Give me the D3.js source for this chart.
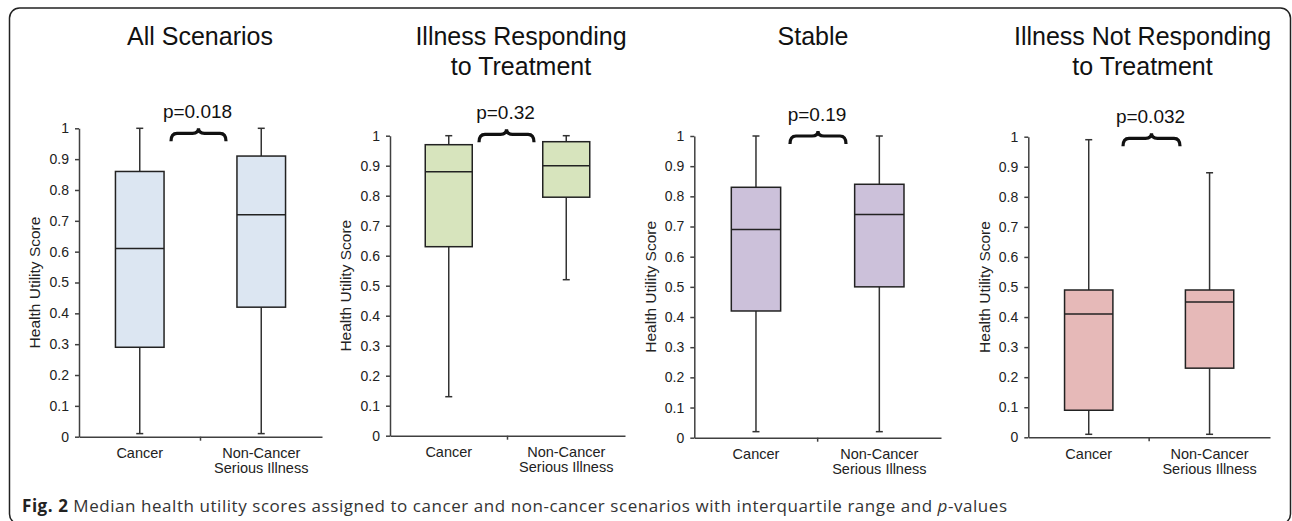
<!DOCTYPE html>
<html>
<head>
<meta charset="utf-8">
<script src="https://cdn.jsdelivr.net/npm/d3@7"></script>
<style>
  html, body {
    margin: 0;
    padding: 0;
    background: #fff;
  }
  svg {
    display: block;
  }
  .axis path,
  .axis line {
    stroke: #404040;
    stroke-width: 1.5;
  }
  .axis text {
    fill: #222;
    font-family: 'Liberation Sans', Arial, sans-serif;
    font-size: 14px;
  }
</style>
</head>
<body>
<div id="chart"></div>
<script>
// panel titles, categories and the box plot values
const panelTitles = [
  ['All Scenarios'],
  ['Illness Responding', 'to Treatment'],
  ['Stable'],
  ['Illness Not Responding', 'to Treatment'],
]
const categories = ['Cancer', 'Non-Cancer Serious Illness']
const categoryLines = [['Cancer'], ['Non-Cancer', 'Serious Illness']]

const cancerMin = [0.01, 0.13, 0.02, 0.01]
const cancerQ1 = [0.29, 0.63, 0.42, 0.09]
const cancerMedian = [0.61, 0.88, 0.69, 0.41]
const cancerQ3 = [0.86, 0.97, 0.83, 0.49]
const cancerMax = [1.0, 1.0, 1.0, 0.99]

const otherMin = [0.01, 0.52, 0.02, 0.01]
const otherQ1 = [0.42, 0.795, 0.5, 0.23]
const otherMedian = [0.72, 0.9, 0.74, 0.45]
const otherQ3 = [0.91, 0.98, 0.84, 0.49]
const otherMax = [1.0, 1.0, 1.0, 0.88]

const pValues = ['p=0.018', 'p=0.32', 'p=0.19', 'p=0.032']
const yTicks = [0, 0.1, 0.2, 0.3, 0.4, 0.5, 0.6, 0.7, 0.8, 0.9, 1]
const boxColors = ['#dce6f2', '#d7e4bd', '#ccc1da', '#e6b9b8']

// where each panel sits on the page
const layout = [
  { left: 79, right: 322, top: 128.3, bottom: 436.7, titleX: 200, brace: [171, 226], braceTop: 128.3 },
  { left: 390, right: 625, top: 135.7, bottom: 435.7, titleX: 521, brace: [479, 534], braceTop: 129.3 },
  { left: 694.3, right: 941, top: 136, bottom: 437.7, titleX: 813, brace: [790, 846], braceTop: 131 },
  { left: 1028.3, right: 1270, top: 136.7, bottom: 437.3, titleX: 1142.5, brace: [1123, 1180], braceTop: 133.3 },
]

const width = 1292
const height = 521
const font = "'Liberation Sans', Arial, sans-serif"

const svg = d3
  .select('#chart')
  .append('svg')
  .attr('width', width)
  .attr('height', height)
  .attr('viewBox', `0 0 ${width} ${height}`)

// rounded frame round the whole figure
svg
  .append('rect')
  .attr('x', 9.5)
  .attr('y', 8)
  .attr('width', 1281)
  .attr('height', 516)
  .attr('rx', 10)
  .attr('fill', 'none')
  .attr('stroke', '#222')
  .attr('stroke-width', 1.5)

function bracePath(x0, x1, top) {
  const xc = (x0 + x1) / 2
  const body = top + 5
  const arm = top + 13
  const r = 6
  return (
    `M${x0},${arm} Q${x0},${body} ${x0 + r},${body} L${xc - r},${body} ` +
    `Q${xc},${body} ${xc},${top} Q${xc},${body} ${xc + r},${body} ` +
    `L${x1 - r},${body} Q${x1},${body} ${x1},${arm}`
  )
}

layout.forEach((p, i) => {
  const g = svg.append('g')

  const x = d3.scaleBand().domain(categories).range([p.left, p.right]).padding(0)
  const y = d3.scaleLinear().domain([0, 1]).range([p.bottom, p.top])

  // title
  g.append('text')
    .attr('x', p.titleX)
    .attr('y', 45)
    .attr('text-anchor', 'middle')
    .style('font-family', font)
    .style('font-size', '25px')
    .attr('fill', '#111')
    .selectAll('tspan')
    .data(panelTitles[i])
    .enter()
    .append('tspan')
    .attr('x', p.titleX)
    .attr('dy', (d, j) => (j === 0 ? 0 : 30))
    .text((d) => d)

  // y axis
  g.append('g')
    .attr('class', 'axis')
    .attr('transform', `translate(${p.left},0)`)
    .call(d3.axisLeft(y).tickValues(yTicks).tickSize(4).tickSizeOuter(0).tickPadding(6).tickFormat(d3.format('~g')))

  g.append('text')
    .attr('transform', `translate(${p.left - 44},${(p.top + p.bottom) / 2}) rotate(-90)`)
    .attr('text-anchor', 'middle')
    .attr('dy', '0.35em')
    .style('font-family', font)
    .style('font-size', '15.5px')
    .attr('fill', '#222')
    .text('Health Utility Score')

  // x axis, labels split over two lines
  const xAxis = g
    .append('g')
    .attr('class', 'axis')
    .attr('transform', `translate(0,${p.bottom})`)
    .call(d3.axisBottom(x).tickSize(0).tickSizeOuter(0).tickPadding(11))

  xAxis.selectAll('.tick text').each(function (d, j) {
    const t = d3.select(this).text(null).style('font-size', '14.5px')
    categoryLines[j].forEach((line, k) => {
      t.append('tspan')
        .attr('x', 0)
        .attr('dy', k === 0 ? '0.71em' : '1.05em')
        .text(line)
    })
  })

  // the one divider tick between the two categories
  xAxis
    .append('line')
    .attr('x1', x(categories[1]))
    .attr('x2', x(categories[1]))
    .attr('y1', 0)
    .attr('y2', 4)

  const boxes = [
    { min: cancerMin[i], q1: cancerQ1[i], med: cancerMedian[i], q3: cancerQ3[i], max: cancerMax[i], cat: categories[0] },
    { min: otherMin[i], q1: otherQ1[i], med: otherMedian[i], q3: otherQ3[i], max: otherMax[i], cat: categories[1] },
  ]

  const bw = x.bandwidth() * 0.4
  const cap = 7

  const box = g
    .selectAll('.box')
    .data(boxes)
    .enter()
    .append('g')
    .attr('class', 'box')
    .attr('transform', (d) => `translate(${x(d.cat) + x.bandwidth() / 2},0)`)

  // whiskers
  box
    .append('line')
    .attr('x1', 0)
    .attr('x2', 0)
    .attr('y1', (d) => y(d.max))
    .attr('y2', (d) => y(d.q3))
    .attr('stroke', '#333')
    .attr('stroke-width', 1.5)
  box
    .append('line')
    .attr('x1', 0)
    .attr('x2', 0)
    .attr('y1', (d) => y(d.q1))
    .attr('y2', (d) => y(d.min))
    .attr('stroke', '#333')
    .attr('stroke-width', 1.5)
  box
    .append('line')
    .attr('x1', -cap / 2)
    .attr('x2', cap / 2)
    .attr('y1', (d) => y(d.max))
    .attr('y2', (d) => y(d.max))
    .attr('stroke', '#333')
    .attr('stroke-width', 1.5)
  box
    .append('line')
    .attr('x1', -cap / 2)
    .attr('x2', cap / 2)
    .attr('y1', (d) => y(d.min))
    .attr('y2', (d) => y(d.min))
    .attr('stroke', '#333')
    .attr('stroke-width', 1.5)

  // interquartile box and median
  box
    .append('rect')
    .attr('x', -bw / 2)
    .attr('width', bw)
    .attr('y', (d) => y(d.q3))
    .attr('height', (d) => y(d.q1) - y(d.q3))
    .attr('fill', boxColors[i])
    .attr('stroke', '#222')
    .attr('stroke-width', 1.5)
  box
    .append('line')
    .attr('x1', -bw / 2)
    .attr('x2', bw / 2)
    .attr('y1', (d) => y(d.med))
    .attr('y2', (d) => y(d.med))
    .attr('stroke', '#222')
    .attr('stroke-width', 1.5)

  // brace and p-value
  g.append('path')
    .attr('d', bracePath(p.brace[0], p.brace[1], p.braceTop))
    .attr('fill', 'none')
    .attr('stroke', '#111')
    .attr('stroke-width', 3.2)

  g.append('text')
    .attr('x', (p.brace[0] + p.brace[1]) / 2 - 1)
    .attr('y', p.braceTop - 10)
    .attr('text-anchor', 'middle')
    .style('font-family', font)
    .style('font-size', '19px')
    .attr('fill', '#111')
    .text(pValues[i])
})

// caption
const caption = svg
  .append('text')
  .attr('x', 22)
  .attr('y', 512)
  .style('font-family', "'Open Sans', 'Noto Sans', sans-serif")
  .style('font-size', '17px')
  .style('letter-spacing', '0.55px')
  .attr('fill', '#333')

caption.append('tspan').attr('font-weight', 'bold').attr('fill', '#222').text('Fig. 2')
caption.append('tspan').text(' Median health utility scores assigned to cancer and non-cancer scenarios with interquartile range and ')
caption.append('tspan').attr('font-style', 'italic').text('p')
caption.append('tspan').text('-values')
</script>
</body>
</html>
